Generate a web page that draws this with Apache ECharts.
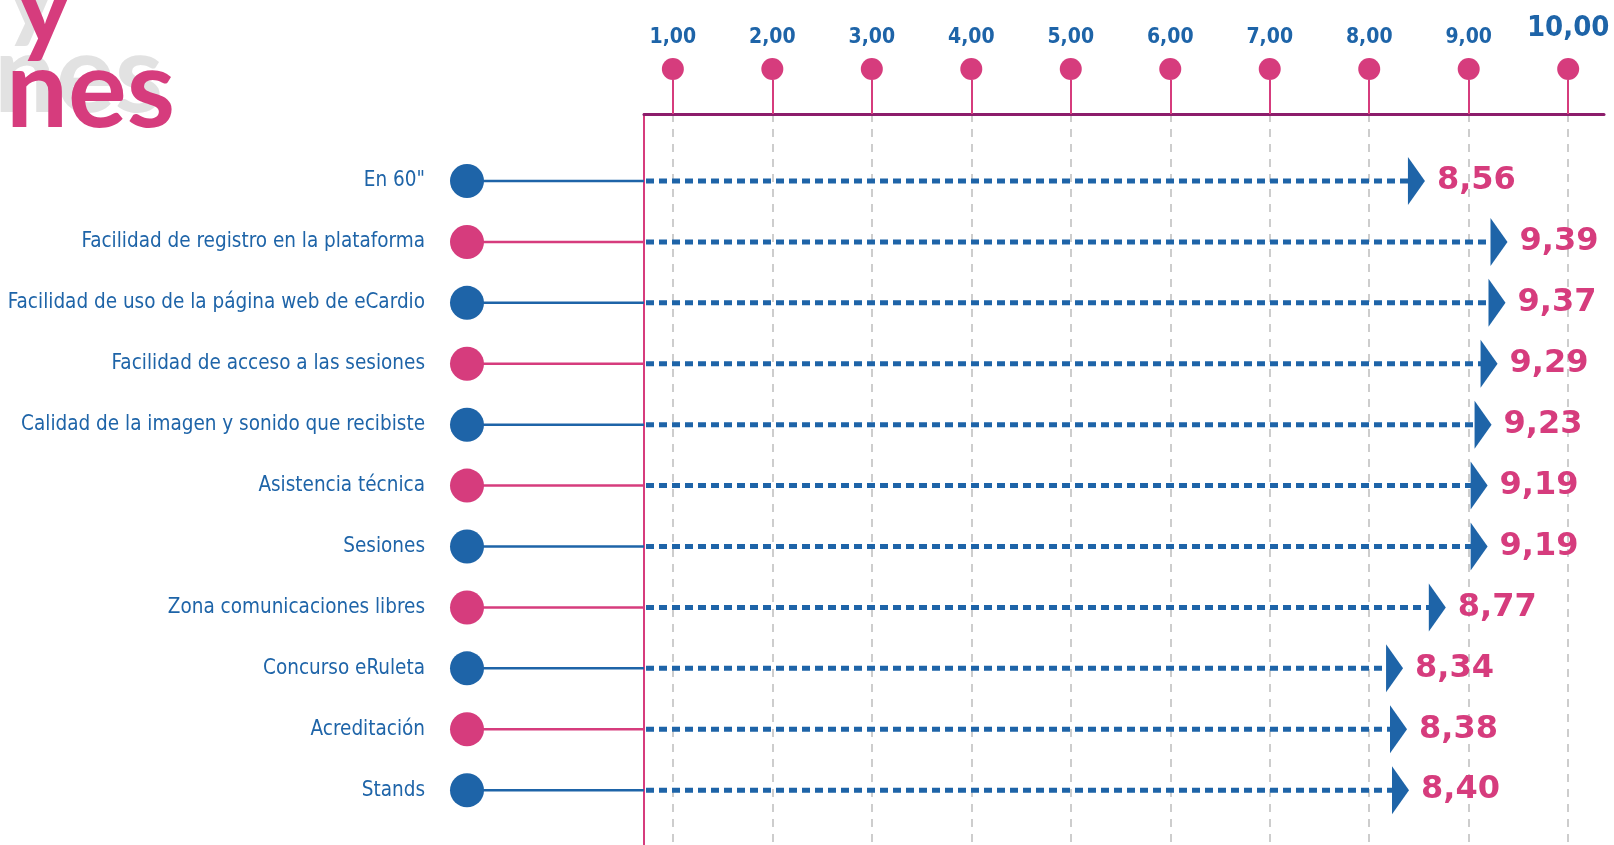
<!DOCTYPE html>
<html>
<head>
    <meta http-equiv="Content-Type" content="text/html; charset=UTF-8">
    <script type="text/javascript" src="https://cdn.jsdelivr.net/npm/echarts@6/dist/echarts.min.js" charset="utf-8"></script>
    <style>
        html, body { margin: 0; padding: 0; background: #fff; }
        #main { width: 1614px; height: 845px; }
    </style>
</head>
<body>
<div id="main"></div>
<script>
    // categorias y puntuaciones (de arriba a abajo)
    var categories = ['En 60"', 'Facilidad de registro en la plataforma', 'Facilidad de uso de la página web de eCardio',
        'Facilidad de acceso a las sesiones', 'Calidad de la imagen y sonido que recibiste', 'Asistencia técnica',
        'Sesiones', 'Zona comunicaciones libres', 'Concurso eRuleta', 'Acreditación', 'Stands'];
    var scores = [8.56, 9.39, 9.37, 9.29, 9.23, 9.19, 9.19, 8.77, 8.34, 8.38, 8.40];
    var tickValues = [1, 2, 3, 4, 5, 6, 7, 8, 9, 10];

    var blue = '#1e64a8';
    var pink = '#d63c7d';
    var xMin = 0.71, xMax = 10.36;
    var narrow = '"Liberation Sans Narrow", "DejaVu Sans Condensed", "Liberation Sans", sans-serif';

    function fmt(v) {
        return v.toFixed(2).replace('.', ',');
    }

    var rowIndex = categories.map(function (c, i) { return i; });

    var myChart = echarts.init(document.getElementById('main'));

    myChart.setOption({
        animation: false,
        backgroundColor: '#fff',
        grid: { left: 644, right: 10, top: 114, bottom: 0, outerBoundsMode: 'none', containLabel: false },
        xAxis: {
            type: 'value',
            position: 'top',
            min: xMin,
            max: xMax,
            axisLine: { show: true, onZero: false, lineStyle: { color: '#8c1d6b', width: 3 } },
            axisTick: { show: true, customValues: tickValues, length: 34, lineStyle: { color: pink, width: 2 } },
            axisLabel: {
                customValues: tickValues,
                margin: 34,
                formatter: function (v) {
                    return (v === 10 ? '{big|' : '{v|') + fmt(v) + '}\n{dot|}';
                },
                rich: {
                    v: { fontFamily: narrow, fontWeight: 'bold', fontSize: 21, color: blue, lineHeight: 40 },
                    big: { fontFamily: narrow, fontWeight: 'bold', fontSize: 29, color: blue, lineHeight: 60 },
                    dot: { width: 22, height: 22, borderRadius: 11, backgroundColor: pink }
                }
            },
            splitLine: { show: true, lineStyle: { color: '#cdcdcd', width: 2, type: [8, 7] } }
        },
        yAxis: {
            type: 'value',
            inverse: true,
            min: -1.1,
            max: 10.9,
            axisLine: { show: true, onZero: false, lineStyle: { color: pink, width: 2 } },
            axisTick: { show: false },
            splitLine: { show: false },
            axisLabel: {
                customValues: rowIndex,
                margin: 219,
                color: blue,
                fontFamily: narrow,
                fontSize: 20.5,
                formatter: function (v) { return categories[v]; }
            }
        },
        graphic: [
            // titulo cortado arriba a la izquierda (sombra gris + texto rosa)
            { type: 'text', left: 2, top: -62, silent: true,
              style: { text: 'y', font: 'bold 110px Lato', fill: '#e2e2e2' } },
            { type: 'text', left: -6, top: 22, silent: true,
              style: { text: 'nes', font: 'bold 110px Lato', fill: '#e2e2e2' } },
            { type: 'text', left: 15, top: -47, silent: true,
              style: { text: 'y', font: 'bold 110px Lato', fill: pink } },
            { type: 'text', left: 6, top: 37, silent: true,
              style: { text: 'nes', font: 'bold 110px Lato', fill: pink } }
        ],
        series: [{
            type: 'custom',
            clip: false,
            encode: { x: 0, y: 1 },
            data: scores.map(function (s, i) { return [s, i]; }),
            renderItem: function (params, api) {
                var i = api.value(1);
                var v = api.value(0);
                var end = api.coord([v, i]);
                var start = api.coord([xMin, i]);
                var y = end[1];
                var c = i % 2 ? pink : blue;
                var cx = start[0] - 177;
                return {
                    type: 'group',
                    children: [
                        { type: 'line', shape: { x1: cx, y1: y, x2: start[0], y2: y },
                          style: { stroke: c, lineWidth: 2.5 } },
                        { type: 'circle', shape: { cx: cx, cy: y, r: 17 }, style: { fill: c } },
                        { type: 'line', shape: { x1: start[0] + 2, y1: y, x2: end[0] - 16, y2: y },
                          style: { stroke: blue, lineWidth: 5, lineDash: [8, 5] } },
                        { type: 'polygon', shape: { points: [[end[0] - 17, y - 24], [end[0], y], [end[0] - 17, y + 24]] },
                          style: { fill: blue } },
                        { type: 'text', x: end[0] + 12, y: y,
                          style: { text: fmt(v), fill: pink, font: 'bold 32px "DejaVu Sans"', textVerticalAlign: 'middle' } }
                    ]
                };
            }
        }]
    });
</script>
</body>
</html>
